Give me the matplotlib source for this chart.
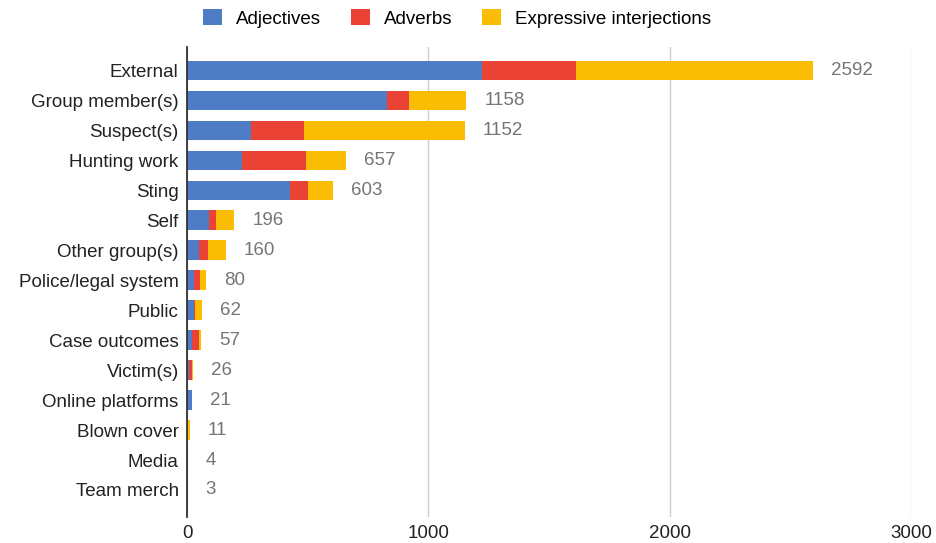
import numpy as np
import matplotlib.pyplot as plt

plt.rcParams['font.family'] = ['Liberation Sans', 'DejaVu Sans']

categories = ["External", "Group member(s)", "Suspect(s)", "Hunting work", "Sting",
              "Self", "Other group(s)", "Police/legal system", "Public",
              "Case outcomes", "Victim(s)", "Online platforms", "Blown cover",
              "Media", "Team merch"]
adjectives = [1221, 830, 267, 226, 428, 92, 50, 29, 31, 22, 10, 21, 0, 4, 3]
adverbs = [389, 88, 219, 267, 72, 30, 39, 26, 4, 28, 9, 0, 0, 0, 0]
expressive = [982, 240, 666, 164, 103, 74, 71, 25, 27, 7, 7, 0, 11, 0, 0]
totals = [2592, 1158, 1152, 657, 603, 196, 160, 80, 62, 57, 26, 21, 11, 4, 3]

colors = ["#4e7dc6", "#ea4335", "#fbbc04"]

fig = plt.figure(figsize=(9.36, 5.43), dpi=100)
ax = fig.add_axes([0.1998, 0.048, 0.7735, 0.865])

y = np.arange(len(categories))
adj = np.array(adjectives)
adv = np.array(adverbs)
exp = np.array(expressive)
h = 0.66
ax.barh(y, adj, height=h, color=colors[0], label="Adjectives", zorder=3)
ax.barh(y, adv, left=adj, height=h, color=colors[1], label="Adverbs", zorder=3)
ax.barh(y, exp, left=adj + adv, height=h, color=colors[2],
        label="Expressive interjections", zorder=3)

for yi, t in zip(y, totals):
    ax.annotate(str(t), xy=(t, yi), xytext=(13, 0), textcoords="offset points",
                va="center", ha="left", fontsize=13.5, color="#757575")

ax.set_xlim(0, 3000)
ax.set_ylim(len(categories) - 0.1, -0.78)
ax.set_xticks([0, 1000, 2000, 3000])
ax.set_yticks(y)
ax.set_yticklabels(categories)
ax.tick_params(axis="both", length=0, labelsize=13.5, colors="#222222")
ax.tick_params(axis="y", pad=6)
ax.tick_params(axis="x", pad=6)
ax.grid(axis="x", color="#cccccc", linewidth=1, zorder=0)
for s in ["top", "right", "bottom"]:
    ax.spines[s].set_visible(False)
ax.spines["left"].set_color("#333333")
ax.spines["left"].set_linewidth(1.3)
ax.spines["left"].set_zorder(4)

ax.legend(loc="center", bbox_to_anchor=(0.373, 1.062), ncol=3, frameon=False,
          fontsize=13.5, handlelength=1.0, handleheight=1.0, columnspacing=1.6,
          handletextpad=0.75, borderaxespad=0)

fig.savefig("out.png", dpi=100)
